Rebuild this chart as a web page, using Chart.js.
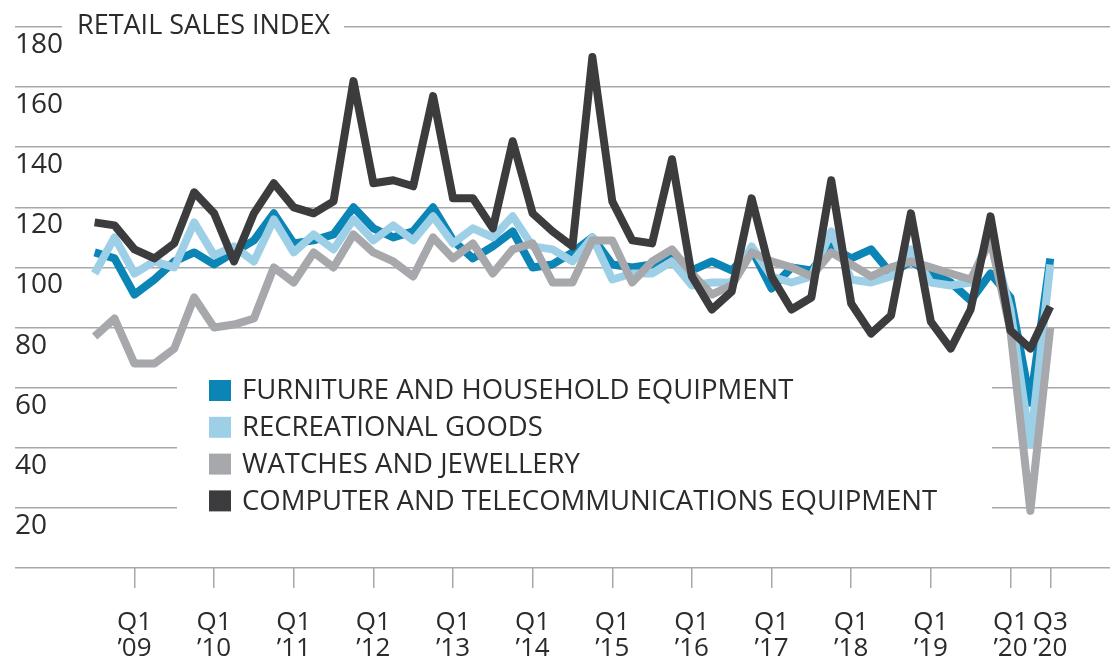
<!DOCTYPE html>
<html>
<head>
<meta charset="utf-8">
<title>Retail sales index</title>
<script src="https://cdn.jsdelivr.net/npm/chart.js"></script>
<style>
  html, body { margin: 0; padding: 0; background: #fff; }
  #wrap { width: 1112px; height: 661px; }
</style>
</head>
<body>
<div id="wrap"><canvas id="line-chart"></canvas></div>
<script>
// quarters Q3 2008 .. Q3 2020
var quarters = [
  'Q3 2008', 'Q4 2008',
  'Q1 2009', 'Q2 2009', 'Q3 2009', 'Q4 2009',
  'Q1 2010', 'Q2 2010', 'Q3 2010', 'Q4 2010',
  'Q1 2011', 'Q2 2011', 'Q3 2011', 'Q4 2011',
  'Q1 2012', 'Q2 2012', 'Q3 2012', 'Q4 2012',
  'Q1 2013', 'Q2 2013', 'Q3 2013', 'Q4 2013',
  'Q1 2014', 'Q2 2014', 'Q3 2014', 'Q4 2014',
  'Q1 2015', 'Q2 2015', 'Q3 2015', 'Q4 2015',
  'Q1 2016', 'Q2 2016', 'Q3 2016', 'Q4 2016',
  'Q1 2017', 'Q2 2017', 'Q3 2017', 'Q4 2017',
  'Q1 2018', 'Q2 2018', 'Q3 2018', 'Q4 2018',
  'Q1 2019', 'Q2 2019', 'Q3 2019', 'Q4 2019',
  'Q1 2020', 'Q2 2020', 'Q3 2020'
];

var furniture = [105, 103, 91, 96, 102, 105, 101, 105, 109, 118, 108, 109, 111, 120, 113, 110, 112, 120, 109, 103,
  107, 112, 100, 101, 105, 110, 101, 100, 101, 105, 99, 102, 99, 106, 93, 100, 99, 107, 103, 106,
  98, 102, 98, 95, 89, 98, 90, 55, 103];
var recreational = [98, 110, 98, 102, 100, 115, 104, 107, 102, 116, 105, 111, 106, 116, 109, 114, 109, 117, 108, 113,
  110, 117, 107, 106, 102, 110, 96, 98, 98, 102, 94, 95, 95, 107, 97, 95, 97, 112, 96, 95,
  97, 106, 95, 94, 95, 111, 86, 41, 101];
var watches = [77, 83, 68, 68, 73, 90, 80, 81, 83, 100, 95, 105, 100, 111, 105, 102, 97, 110, 103, 108,
  98, 106, 108, 95, 95, 109, 109, 95, 102, 106, 98, 91, 94, 105, 102, 100, 97, 105, 101, 97,
  100, 102, 100, 98, 96, 109, 79, 19, 80];
var computer = [115, 114, 106, 103, 108, 125, 118, 102, 118, 128, 120, 118, 122, 162, 128, 129, 127, 157, 123, 123,
  113, 142, 118, 112, 107, 170, 122, 109, 108, 136, 97, 86, 92, 123, 97, 86, 90, 129, 88, 78,
  84, 118, 82, 73, 86, 117, 79, 73, 87];

var seriesNames = ['FURNITURE AND HOUSEHOLD EQUIPMENT', 'RECREATIONAL GOODS',
  'WATCHES AND JEWELLERY', 'COMPUTER AND TELECOMMUNICATIONS EQUIPMENT'];
var seriesColors = ['#0b84b6', '#9dcfe7', '#a7a8ab', '#3c3c3e'];

var tickQuarters = ['Q1 2009', 'Q1 2010', 'Q1 2011', 'Q1 2012', 'Q1 2013', 'Q1 2014', 'Q1 2015',
  'Q1 2016', 'Q1 2017', 'Q1 2018', 'Q1 2019', 'Q1 2020', 'Q3 2020'];
var tickLabels = [['Q1', '’09'], ['Q1', '’10'], ['Q1', '’11'], ['Q1', '’12'], ['Q1', '’13'], ['Q1', '’14'],
  ['Q1', '’15'], ['Q1', '’16'], ['Q1', '’17'], ['Q1', '’18'], ['Q1', '’19'], ['Q1', '’20'], ['Q3', '’20']];

var tickPos = tickQuarters.map(function (q) { return quarters.indexOf(q); });

function points(values) {
  return values.map(function (v, i) { return { x: i, y: v }; });
}

var allSeries = [furniture, recreational, watches, computer];
var datasets = allSeries.map(function (s, k) {
  return {
    label: seriesNames[k],
    data: points(s),
    borderColor: seriesColors[k],
    backgroundColor: seriesColors[k],
    borderWidth: 8,
    pointRadius: 0,
    tension: 0,
    borderJoinStyle: 'round',
    order: 3 - k
  };
});

var gridColor = '#a8a8a8';
var textColor = '#2b2b2b';

// title over the top grid line and the legend block
var overlay = {
  id: 'overlay',
  beforeDatasetsDraw: function (chart) {
    var ctx = chart.ctx;
    ctx.save();
    ctx.fillStyle = '#fff';
    ctx.fillRect(62, 18, 282, 18);
    ctx.fillRect(177, 372, 815, 150);
    ctx.fillStyle = textColor;
    ctx.textBaseline = 'middle';
    ctx.font = '27px "Open Sans"';
    ctx.fillText('RETAIL SALES INDEX', 77, 26.5);
    ctx.font = '27.5px "Open Sans"';
    for (var k = 0; k < seriesNames.length; k++) {
      var y = 390 + k * 36.8;
      ctx.fillStyle = seriesColors[k];
      ctx.fillRect(209, y - 10, 22, 21);
      ctx.fillStyle = textColor;
      ctx.fillText(seriesNames[k], 242, y + 1.5);
    }
    ctx.restore();
  }
};

var ctx = document.getElementById('line-chart').getContext('2d');
new Chart(ctx, {
  type: 'line',
  data: { datasets: datasets },
  plugins: [overlay],
  options: {
    responsive: true,
    maintainAspectRatio: false,
    animation: false,
    layout: { padding: { left: 15, right: 2, top: 27, bottom: 0 } },
    plugins: {
      legend: { display: false },
      tooltip: { enabled: false }
    },
    scales: {
      x: {
        type: 'linear',
        min: -4,
        max: 51,
        afterBuildTicks: function (scale) {
          scale.ticks = tickPos.map(function (v) { return { value: v }; });
        },
        afterFit: function (scale) { scale.height = 93; },
        border: { display: false },
        grid: {
          drawOnChartArea: false,
          drawTicks: true,
          tickLength: 20,
          color: gridColor,
          lineWidth: 1.5
        },
        ticks: {
          autoSkip: false,
          maxRotation: 0,
          padding: 22,
          color: textColor,
          font: { family: 'Open Sans', size: 26, lineHeight: 1.0 },
          callback: function (value) {
            return tickLabels[tickPos.indexOf(value)];
          }
        }
      },
      y: {
        min: 0,
        max: 180,
        afterFit: function (scale) { scale.width = 0; },
        border: { display: false },
        grid: { color: gridColor, lineWidth: 1.5, drawTicks: false },
        ticks: {
          stepSize: 20,
          autoSkip: false,
          mirror: true,
          padding: 0,
          labelOffset: 18,
          color: textColor,
          font: { family: 'Open Sans', size: 28 },
          callback: function (v) { return v === 0 ? '' : v; }
        }
      }
    }
  }
});
</script>
</body>
</html>
